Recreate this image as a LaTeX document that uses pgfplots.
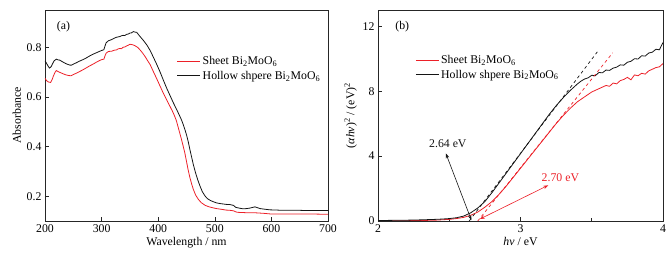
\documentclass[border=0pt]{standalone}
\usepackage{pgfplots}
\pgfplotsset{compat=1.18}
\usepackage{fontspec}
\setmainfont{Liberation Serif}
\usetikzlibrary{arrows.meta}
\definecolor{cred}{RGB}{236,32,40}
\definecolor{cblack}{RGB}{20,20,20}

\pgfplotstableread{
x y
200 0.745
202 0.738
204 0.730
206 0.722
208 0.716
211 0.722
213 0.732
216 0.745
220 0.752
223 0.749
226 0.748
229 0.744
232 0.740
236 0.735
240 0.731
244 0.728
247 0.728
251 0.733
255 0.737
261 0.744
267 0.750
273 0.757
279 0.765
285 0.772
291 0.778
296 0.783
300 0.787
304 0.790
306 0.805
308 0.818
312 0.826
318 0.831
322 0.836
326 0.840
332 0.843
335 0.846
338 0.848
341 0.847
344 0.852
347 0.853
350 0.857
353 0.858
356 0.863
359 0.861
362 0.860
368 0.843
374 0.827
380 0.809
386 0.786
391 0.762
397 0.733
403 0.702
409 0.668
415 0.635
421 0.605
427 0.575
432 0.552
437 0.528
441 0.508
444 0.490
447 0.470
450 0.447
453 0.420
456 0.388
459 0.358
462 0.328
466 0.294
470 0.265
474 0.240
478 0.218
483 0.200
487 0.190
492 0.183
497 0.178
503 0.173
510 0.170
520 0.167
527 0.166
533 0.163
537 0.155
543 0.152
550 0.149
556 0.150
562 0.152
571 0.157
575 0.154
580 0.150
590 0.147
597 0.145
610 0.144
620 0.143
635 0.143
650 0.143
665 0.142
680 0.142
690 0.142
700 0.142
}\tabHa

\pgfplotstableread{
x y
200 0.675
203 0.665
206 0.660
210 0.658
213 0.672
215 0.685
218 0.700
220 0.706
224 0.701
229 0.696
233 0.692
238 0.688
242 0.686
246 0.685
250 0.690
255 0.695
261 0.702
267 0.709
273 0.717
279 0.725
285 0.732
291 0.740
296 0.746
300 0.750
304 0.752
306 0.765
308 0.776
312 0.783
318 0.784
322 0.788
326 0.789
329 0.793
332 0.795
335 0.794
338 0.800
341 0.801
344 0.805
347 0.808
350 0.812
355 0.810
359 0.806
364 0.799
368 0.789
372 0.778
377 0.762
381 0.747
386 0.729
391 0.704
397 0.675
403 0.645
409 0.615
415 0.588
421 0.561
425 0.543
428 0.528
432 0.505
435 0.480
438 0.455
441 0.430
444 0.403
447 0.375
450 0.340
453 0.305
456 0.275
459 0.250
462 0.228
466 0.205
471 0.187
476 0.174
483 0.163
490 0.157
497 0.153
503 0.150
512 0.147
520 0.144
527 0.143
533 0.141
537 0.137
540 0.135
550 0.134
560 0.133
572 0.133
586 0.131
600 0.128
625 0.128
650 0.128
675 0.128
700 0.127
}\tabHb

\pgfplotstableread{
x y
2.00 0.03
2.10 0.04
2.20 0.05
2.30 0.07
2.40 0.10
2.45 0.12
2.50 0.15
2.55 0.20
2.60 0.30
2.65 0.50
2.70 0.80
2.75 1.20
2.80 1.75
2.85 2.35
2.90 2.95
2.95 3.55
3.00 4.15
3.05 4.75
3.10 5.35
3.15 5.95
3.20 6.55
3.25 7.10
3.30 7.60
3.35 8.05
3.40 8.45
3.425 8.62
3.45 8.75
3.475 8.82
3.50 8.98
3.525 8.95
3.55 9.15
3.575 9.13
3.60 9.30
3.625 9.28
3.65 9.42
3.675 9.48
3.70 9.62
3.725 9.60
3.75 9.78
3.775 9.84
3.80 10.00
3.825 9.98
3.85 10.18
3.875 10.16
3.90 10.35
3.925 10.40
3.95 10.58
3.975 10.55
4.00 11.00
}\tabBa

\pgfplotstableread{
x y
2.00 0.00
2.10 0.01
2.20 0.02
2.30 0.03
2.40 0.05
2.50 0.10
2.55 0.15
2.60 0.22
2.65 0.35
2.70 0.55
2.75 0.85
2.80 1.20
2.85 1.65
2.90 2.15
2.95 2.70
3.00 3.25
3.05 3.80
3.10 4.35
3.15 4.90
3.20 5.45
3.25 6.00
3.30 6.50
3.35 6.95
3.40 7.35
3.45 7.65
3.50 7.95
3.55 8.15
3.60 8.35
3.625 8.30
3.65 8.50
3.675 8.45
3.70 8.65
3.725 8.72
3.75 8.85
3.775 8.70
3.80 9.00
3.825 8.95
3.85 9.10
3.875 9.05
3.90 9.25
3.925 9.35
3.95 9.45
3.975 9.50
4.00 9.70
}\tabBb

\begin{document}
\begin{tikzpicture}[font=\fontsize{11.8bp}{13.5bp}\selectfont]
\useasboundingbox (0,0) rectangle (672bp,253bp);
\pgfplotsset{
  every axis/.append style={
    scale only axis,
    axis line style={line width=0.6pt, black!85},
    tick align=inside,
    xtick pos=bottom, ytick pos=left,
    major tick length=4bp,
    minor tick length=2.5bp,
    tick style={line width=0.6pt, black!85},
    /pgf/number format/assume math mode=true,
    legend cell align=left,
    legend style={draw=none, fill=none, font=\fontsize{11.8bp}{13.5bp}\selectfont, row sep=1bp},
    legend image code/.code={\draw[#1] (0bp,0bp) -- (23bp,0bp);},
  },
}
% Panel (a)
\begin{axis}[
  at={(45bp,32bp)}, anchor=south west,
  width=283bp, height=211bp,
  xmin=200, xmax=700, ymin=0.1, ymax=0.95,
  xtick={200,300,400,500,600,700},
  ytick={0.2,0.4,0.6,0.8},
  yticklabel style={/pgf/number format/fixed, /pgf/number format/precision=1, /pgf/number format/fixed zerofill},
  xlabel={Wavelength / nm},
  ylabel={Absorbance},
  xlabel style={yshift=2bp},
  ylabel style={yshift=-1bp},
  legend style={at={(0.455,0.80)}, anchor=north west},
]
\addplot[cred, line width=0.8pt] table[x=x,y=y] {\tabHb};
\addlegendentry{Sheet Bi\textsubscript{2}MoO\textsubscript{6}}
\addplot[cblack, line width=0.8pt] table[x=x,y=y] {\tabHa};
\addlegendentry{Hollow shpere Bi\textsubscript{2}MoO\textsubscript{6}}
\node[anchor=center] at (rel axis cs:0.065,0.92) {(a)};
\end{axis}
% Panel (b)
\begin{axis}[
  at={(378bp,32bp)}, anchor=south west,
  width=285bp, height=211bp,
  xmin=2, xmax=4, ymin=0, ymax=13,
  xtick={2,3,4}, minor xtick={2.5,3.5},
  ytick={0,4,8,12},
  xlabel={\textit{hν} / eV},
  ylabel={(\textit{αhν})\textsuperscript{2} / (eV)\textsuperscript{2}},
  xlabel style={yshift=2bp},
  ylabel style={yshift=-1bp},
  legend style={at={(0.12,0.805)}, anchor=north west},
]
\addplot[cred, line width=0.8pt] table[x=x,y=y] {\tabBb};
\addlegendentry{Sheet Bi\textsubscript{2}MoO\textsubscript{6}}
\addplot[cblack, line width=0.8pt] table[x=x,y=y] {\tabBa};
\addlegendentry{Hollow shpere Bi\textsubscript{2}MoO\textsubscript{6}}
\addplot[cblack, dashed, line width=0.7pt, forget plot] coordinates {(2.64,0) (3.546,10.5)};
\addplot[cred, dashed, line width=0.7pt, forget plot] coordinates {(2.70,0) (3.647,10.36)};
\draw[cblack, line width=0.6pt, {Stealth[length=5bp,width=3.5bp]}-{Stealth[length=5bp,width=3.5bp]}] (axis cs:2.476,4.17) -- (axis cs:2.655,0.06);
\draw[cred, line width=0.6pt, {Stealth[length=5bp,width=3.5bp]}-{Stealth[length=5bp,width=3.5bp]}] (axis cs:2.715,0.12) -- (axis cs:3.195,2.2);
\node[cblack] at (axis cs:2.49,4.75) {2.64 eV};
\node[cred] at (axis cs:3.28,2.68) {2.70 eV};
\node[anchor=center] at (rel axis cs:0.085,0.92) {(b)};
\end{axis}
\end{tikzpicture}
\end{document}
